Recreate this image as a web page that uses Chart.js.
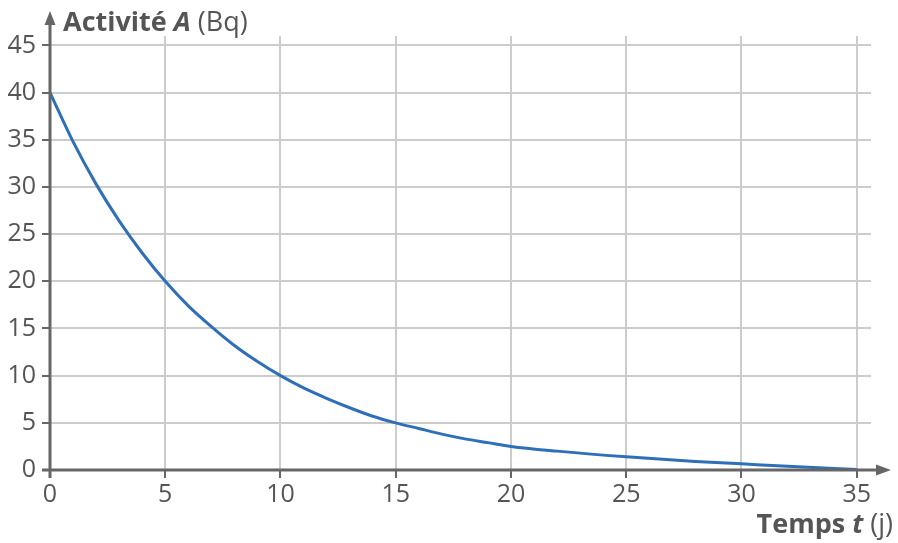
<!DOCTYPE html>
<html><head><meta charset="utf-8">
<script src="https://cdn.jsdelivr.net/npm/chart.js@4.4.0/dist/chart.umd.min.js"></script>
<style>html,body{margin:0;padding:0;background:#fff}#wrap{width:898px;height:543px}</style>
</head><body><div id="wrap"><canvas id="c" width="898" height="543"></canvas></div>
<script>
const days =      [0, 1, 2, 3, 4, 5, 6, 7, 8, 9, 10, 11, 12, 13, 14, 15, 16, 17, 18, 19, 20, 22, 25, 28, 30, 32, 35];
const activity =  [40, 34.8, 30.3, 26.4, 23, 20, 17.4, 15.2, 13.2, 11.5, 10, 8.7, 7.6, 6.6, 5.7, 5, 4.4, 3.8, 3.3, 2.9, 2.5, 2.0, 1.4, 0.9, 0.65, 0.4, 0.05];
const xTicks = [0, 5, 10, 15, 20, 25, 30, 35];
const yTicks = [0, 5, 10, 15, 20, 25, 30, 35, 40, 45];
const FONT = "'Open Sans', sans-serif";
const AX = '#666666', TXT = '#555555', GRID = '#cccccc';

const axesPlugin = {
  id: 'axes',
  afterDraw(chart) {
    const ctx = chart.ctx, xs = chart.scales.x, ys = chart.scales.y;
    const x0 = xs.getPixelForValue(0), y0 = ys.getPixelForValue(0);
    ctx.save();
    ctx.strokeStyle = AX; ctx.fillStyle = AX; ctx.lineWidth = 3;
    ctx.beginPath(); ctx.moveTo(x0, y0 + 8); ctx.lineTo(x0, 24); ctx.stroke();
    ctx.beginPath(); ctx.moveTo(x0, 11); ctx.lineTo(x0 - 5.5, 25); ctx.lineTo(x0 + 5.5, 25); ctx.closePath(); ctx.fill();
    ctx.beginPath(); ctx.moveTo(x0 - 8, y0); ctx.lineTo(878, y0); ctx.stroke();
    ctx.beginPath(); ctx.moveTo(891, y0); ctx.lineTo(876, y0 - 5.5); ctx.lineTo(876, y0 + 5.5); ctx.closePath(); ctx.fill();
    ctx.fillStyle = TXT; ctx.textBaseline = 'alphabetic'; ctx.textAlign = 'left';
    const SZ = 27;
    let x = 63, by = 31;
    const parts = [["bold", "Activité "], ["italic bold", "A"], ["normal", " (Bq)"]];
    for (const [w, t] of parts) { ctx.font = w + " " + SZ + "px " + FONT; ctx.fillText(t, x, by); x += ctx.measureText(t).width; }
    const parts2 = [["bold", "Temps "], ["italic bold", "t"], ["normal", " (j)"]];
    let tw = 0; for (const [w, t] of parts2) { ctx.font = w + " " + SZ + "px " + FONT; tw += ctx.measureText(t).width; }
    x = 893 - tw; by = 533;
    for (const [w, t] of parts2) { ctx.font = w + " " + SZ + "px " + FONT; ctx.fillText(t, x, by); x += ctx.measureText(t).width; }
    ctx.restore();
  }
};

new Chart(document.getElementById('c'), {
  type: 'line',
  data: { datasets: [{ data: days.map((d, i) => ({ x: d, y: activity[i] })), borderColor: '#2e6fb8', borderWidth: 3, pointRadius: 0, cubicInterpolationMode: 'monotone', fill: false }] },
  options: {
    responsive: false, animation: false, devicePixelRatio: 1,
    layout: { padding: { top: 36, right: 27, left: 0, bottom: 0 } },
    plugins: { legend: { display: false }, tooltip: { enabled: false } },
    scales: {
      x: {
        type: 'linear', min: 0, max: 35.62,
        afterBuildTicks: s => { s.ticks = xTicks.map(v => ({ value: v })); },
        afterFit: s => { s.height = 73; },
        border: { display: false },
        grid: { color: GRID, lineWidth: 2, tickColor: AX, tickLength: 8, tickWidth: 2 },
        ticks: { color: TXT, font: { family: FONT, size: 25 }, padding: 2, maxRotation: 0 }
      },
      y: {
        type: 'linear', min: 0, max: 46,
        afterBuildTicks: s => { s.ticks = yTicks.map(v => ({ value: v })); },
        afterFit: s => { s.width = 50; },
        border: { display: false },
        grid: { color: GRID, lineWidth: 2, tickColor: AX, tickLength: 8, tickWidth: 2 },
        ticks: { color: TXT, font: { family: FONT, size: 25 }, padding: 6 }
      }
    }
  },
  plugins: [axesPlugin]
});
</script></body></html>
